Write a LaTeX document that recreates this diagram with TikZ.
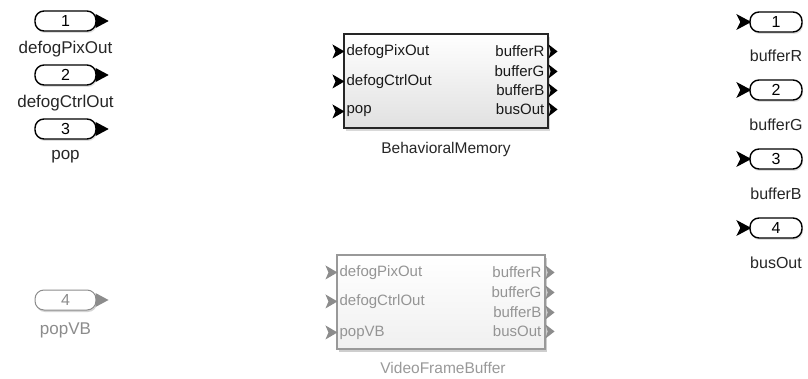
\documentclass[tikz,border=0pt]{standalone}
\usepackage{fontspec}
\setmainfont{Liberation Sans}
\usetikzlibrary{shadows}
\begin{document}
\begin{tikzpicture}[x=1pt,y=-1pt,
  lbl/.style={font=\fontsize{17}{19}\selectfont, inner sep=0pt, text=black!85},
  rlbl/.style={font=\fontsize{16}{18}\selectfont, inner sep=0pt, text=black!85},
  blbl/.style={font=\fontsize{15.5}{17}\selectfont, inner sep=0pt, text=black!85},
  plbl/.style={font=\fontsize{15}{17}\selectfont, inner sep=0pt, text=black!90},
  inport/.style={draw=black, line width=1.4pt, rounded corners=9pt, minimum width=61pt, minimum height=20pt, inner sep=0pt, fill=white, font=\fontsize{16}{18}\selectfont,
    drop shadow={shadow xshift=1pt, shadow yshift=-2pt, opacity=0.25}},
  outport/.style={inport, minimum width=52pt},
  ghost/.style={draw=black!45, text=black!45, line width=1pt, drop shadow={shadow xshift=1pt, shadow yshift=-2pt, opacity=0.12}},
  block/.style={draw=black!85, line width=1.1pt, top color=white, bottom color=black!12, inner sep=0pt,
    drop shadow={shadow xshift=2pt, shadow yshift=-3pt, opacity=0.3}},
  ghostblock/.style={block, draw=black!40, top color=white, bottom color=black!6, drop shadow={shadow xshift=2pt, shadow yshift=-3pt, opacity=0.12}},
  pin/.style={fill=black},
  ghostpin/.style={fill=black!45}
]
\useasboundingbox (0,0) rectangle (808,379);

% ---------- left inports ----------
\foreach \n/\y/\t in {1/21/defogPixOut, 2/75/defogCtrlOut, 3/129/pop}{
  \node[inport] (in\n) at (65.5,\y) {\n};
  \fill[pin] (in\n.east) ++(-1,-7) -- ++(13,7) -- ++(-13,7) -- cycle;
  \node[lbl] (in\n lbl) at (65.5,\y+28) {\t};
}
\node[inport, ghost] (in4) at (65.5,300) {4};
\fill[ghostpin] (in4.east) ++(-1,-7) -- ++(13,7) -- ++(-13,7) -- cycle;
\node[lbl, text=black!45] (in4lbl) at (65.5,330) {popVB};

% ---------- right outports ----------
\foreach \n/\y/\ly/\t in {1/22/56/bufferR, 2/90/125/bufferG, 3/159/194/bufferB, 4/228/263/busOut}{
  \node[outport] (out\n) at (776,\y) {\n};
  \fill[pin] (out\n.west) ++(-13,-8) -- ++(15,8) -- ++(-15,8) -- ++(4,-8) -- cycle;
  \node[rlbl] (out\n lbl) at (776,\ly) {\t};
}

% ---------- BehavioralMemory ----------
\node[block, minimum width=204pt, minimum height=94pt] (bm) at (446,81) {};
\node[blbl] (bmlbl) at (446,149) {BehavioralMemory};
\foreach \k/\dy/\t in {a/18/defogPixOut, b/48/defogCtrlOut, c/78/pop}{
  \node[plbl, anchor=west] (bmin\k) at ([xshift=3pt,yshift=-\dy pt]bm.north west) {\t};
  \fill[pin] ([yshift=-\dy pt]bm.north west) ++(-11,-7) -- ++(12,7) -- ++(-12,7) -- ++(3,-7) -- cycle;
}
\foreach \k/\dy/\t in {a/18/bufferR, b/38/bufferG, c/57/bufferB, d/76/busOut}{
  \node[plbl, anchor=east] (bmout\k) at ([xshift=-4pt,yshift=-\dy pt]bm.north east) {\t};
  \fill[pin] ([yshift=-\dy pt]bm.north east) ++(0,-7) -- ++(9,7) -- ++(-9,7) -- ++(2,-7) -- cycle;
}

% ---------- VideoFrameBuffer ----------
\node[ghostblock, minimum width=208pt, minimum height=94pt] (vfb) at (441,302) {};
\node[blbl, text=black!40] (vfblbl) at (443,368) {VideoFrameBuffer};
\foreach \k/\dy/\t in {a/18/defogPixOut, b/47/defogCtrlOut, c/78/popVB}{
  \node[plbl, anchor=west, text=black!42] (vfbin\k) at ([xshift=3pt,yshift=-\dy pt]vfb.north west) {\t};
  \fill[ghostpin] ([yshift=-\dy pt]vfb.north west) ++(-11,-7) -- ++(12,7) -- ++(-12,7) -- ++(3,-7) -- cycle;
}
\foreach \k/\dy/\t in {a/18/bufferR, b/38/bufferG, c/58/bufferB, d/77/busOut}{
  \node[plbl, anchor=east, text=black!42] (vfbout\k) at ([xshift=-4pt,yshift=-\dy pt]vfb.north east) {\t};
  \fill[ghostpin] ([yshift=-\dy pt]vfb.north east) ++(0,-7) -- ++(9,7) -- ++(-9,7) -- ++(2,-7) -- cycle;
}
\end{tikzpicture}
\end{document}
